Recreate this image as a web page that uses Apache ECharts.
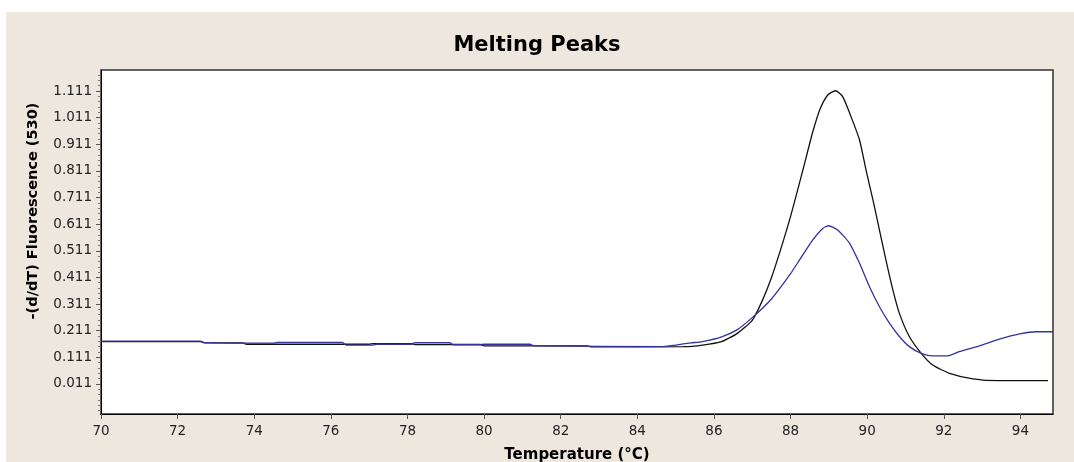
<!DOCTYPE html>
<html>
<head>
<meta charset="utf-8">
<script src="https://cdn.jsdelivr.net/npm/echarts@6/dist/echarts.min.js"></script>
<style>html,body{margin:0;padding:0;background:#fff}#c{width:1074px;height:462px}</style>
</head>
<body>
<div id="c"></div>
<script>
// ---- data ----
const blackT = [70, 72.6, 72.7, 73.7, 73.8, 77.0, 77.1, 78.1, 78.2, 79.9, 80.0, 82.7, 82.8, 85.2, 85.7, 86.2, 86.6, 87.0, 87.25, 87.5, 87.75, 88.0, 88.23, 88.41, 88.58, 88.76, 88.97, 89.17, 89.36, 89.58, 89.8, 89.97, 90.15, 90.32, 90.49, 90.67, 90.84, 91.1, 91.41, 91.71, 92.15, 92.76, 93.45, 94.72];
const blackV = [0.170, 0.170, 0.165, 0.165, 0.160, 0.160, 0.162, 0.162, 0.159, 0.159, 0.154, 0.154, 0.150, 0.151, 0.157, 0.170, 0.200, 0.250, 0.320, 0.410, 0.520, 0.640, 0.764, 0.864, 0.958, 1.040, 1.096, 1.112, 1.090, 1.014, 0.927, 0.814, 0.702, 0.589, 0.476, 0.364, 0.276, 0.189, 0.126, 0.082, 0.051, 0.030, 0.023, 0.023];
const blueT = [70, 72.6, 72.7, 74.5, 74.6, 76.3, 76.4, 77.1, 77.2, 78.1, 78.2, 79.1, 79.2, 79.9, 80.0, 81.2, 81.3, 84.7, 85.0, 85.4, 85.7, 86.2, 86.6, 87.0, 87.5, 88.0, 88.23, 88.58, 88.84, 88.99, 89.23, 89.54, 89.8, 90.06, 90.32, 90.58, 90.84, 91.1, 91.41, 91.71, 92.1, 92.4, 92.93, 93.45, 93.98, 94.41, 94.85];
const blueV = [0.172, 0.172, 0.166, 0.164, 0.167, 0.167, 0.157, 0.157, 0.160, 0.160, 0.166, 0.166, 0.158, 0.158, 0.160, 0.160, 0.154, 0.151, 0.157, 0.165, 0.170, 0.188, 0.214, 0.260, 0.330, 0.425, 0.476, 0.552, 0.595, 0.605, 0.589, 0.539, 0.464, 0.376, 0.301, 0.239, 0.189, 0.151, 0.126, 0.116, 0.116, 0.132, 0.154, 0.179, 0.199, 0.207, 0.207];
const xTicks = [70, 72, 74, 76, 78, 80, 82, 84, 86, 88, 90, 92, 94];
const yTicks = [0.011, 0.111, 0.211, 0.311, 0.411, 0.511, 0.611, 0.711, 0.811, 0.911, 1.011, 1.111];
const yMinorTicks = [-0.089, -0.069, -0.049, -0.029, -0.009,
  0.031, 0.051, 0.071, 0.091, 0.131, 0.151, 0.171, 0.191, 0.231, 0.251, 0.271, 0.291,
  0.331, 0.351, 0.371, 0.391, 0.431, 0.451, 0.471, 0.491, 0.531, 0.551, 0.571, 0.591,
  0.631, 0.651, 0.671, 0.691, 0.731, 0.751, 0.771, 0.791, 0.831, 0.851, 0.871, 0.891,
  0.931, 0.951, 0.971, 0.991, 1.031, 1.051, 1.071, 1.091, 1.131, 1.151, 1.171];

const zip = (a, b) => a.map((t, i) => [t, b[i]]);
const FONT = 'DejaVu Sans';

const chart = echarts.init(document.getElementById('c'), null, {renderer: 'canvas'});
chart.setOption({
  backgroundColor: '#ffffff',
  animation: false,
  graphic: [{
    type: 'rect', z: -10, silent: true,
    shape: {x: 6, y: 12, width: 1068, height: 450},
    style: {fill: '#eee7de'}
  }],
  title: {
    text: 'Melting Peaks', left: 'center', top: 35, padding: 0,
    textStyle: {fontFamily: FONT, fontWeight: 'bold', fontSize: 21, color: '#000'}
  },
  grid: {
    left: 101, top: 70, right: 21, bottom: 48,
    outerBoundsMode: 'none', containLabel: false,
    show: true, backgroundColor: '#ffffff', borderColor: '#333', borderWidth: 1.5
  },
  xAxis: {
    type: 'value', min: 70, max: 94.85,
    name: 'Temperature (°C)', nameLocation: 'middle', nameGap: 34,
    nameTextStyle: {fontFamily: FONT, fontWeight: 'bold', fontSize: 15, color: '#000'},
    axisLine: {show: true, onZero: false, lineStyle: {color: '#000', width: 1}},
    axisTick: {show: true, inside: false, length: 5, customValues: xTicks, lineStyle: {color: '#555'}},
    axisLabel: {customValues: xTicks, margin: 10, fontFamily: FONT, fontSize: 13.5, color: '#222'},
    splitLine: {show: false}
  },
  yAxis: [{
    type: 'value', min: -0.102, max: 1.19,
    name: '-(d/dT) Fluorescence (530)', nameLocation: 'middle', nameGap: 60,
    nameTextStyle: {fontFamily: FONT, fontWeight: 'bold', fontSize: 14.5, color: '#000', padding: [0, 0, 0, 62]},
    axisLine: {show: true, onZero: false, lineStyle: {color: '#000', width: 1}},
    axisTick: {show: true, inside: false, length: 5, customValues: yTicks, lineStyle: {color: '#555'}},
    axisLabel: {customValues: yTicks, margin: 9, fontFamily: FONT, fontSize: 13.5, color: '#222',
      formatter: v => v.toFixed(3)},
    splitLine: {show: false}
  }, {
    type: 'value', min: -0.102, max: 1.19, position: 'left', offset: 0,
    axisLine: {show: false},
    axisTick: {show: true, inside: false, length: 3, customValues: yMinorTicks, lineStyle: {color: '#777'}},
    axisLabel: {show: false},
    splitLine: {show: false}
  }],
  series: [{
    type: 'line', name: 'Sample 1', data: zip(blackT, blackV), yAxisIndex: 0,
    showSymbol: false, smooth: 0.2,
    lineStyle: {color: '#111', width: 1.3}
  }, {
    type: 'line', name: 'Sample 2', data: zip(blueT, blueV), yAxisIndex: 0,
    showSymbol: false, smooth: 0.2,
    lineStyle: {color: '#34349e', width: 1.3}
  }]
});
</script>
</body>
</html>
